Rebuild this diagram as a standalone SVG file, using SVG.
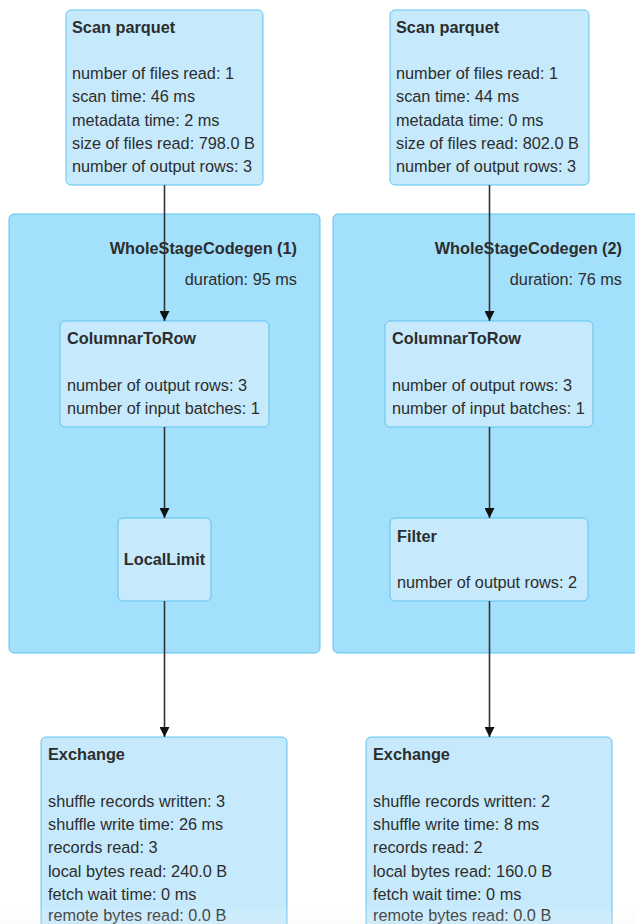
<svg xmlns="http://www.w3.org/2000/svg" width="635" height="924" viewBox="0 0 635 924">
<defs>
<style>
.cluster{fill:#a3e0fc;stroke:#5ec3f0;stroke-width:1}
.node{fill:#c6eafc;stroke:#5ec3f0;stroke-width:1}
.t{font-family:"Liberation Sans",Arial,sans-serif;font-size:16.3px;fill:#2d2d2d}
.b{font-weight:bold}
.edge{stroke:#333;stroke-width:1.6;fill:none}
</style>
<marker id="arr" viewBox="0 0 10 10" refX="10" refY="5" markerWidth="10" markerHeight="10" markerUnits="userSpaceOnUse" orient="auto">
<path d="M0,0 L10,5 L0,10 z" fill="#111"/>
</marker>
<linearGradient id="fade" x1="0" y1="0" x2="0" y2="1">
<stop offset="0" stop-color="#fff" stop-opacity="0"/>
<stop offset="1" stop-color="#eee" stop-opacity="0.25"/>
</linearGradient>
</defs>
<rect width="635" height="924" fill="#fff"/>

<g id="cluster1">
<rect class="cluster" x="9" y="214" width="311" height="439" rx="5"/>
<text class="t b" x="297" y="254" text-anchor="end">WholeStageCodegen (1)</text>
<text class="t" x="297" y="285" text-anchor="end">duration: 95 ms</text>
</g>
<g id="cluster2">
<rect class="cluster" x="333" y="214" width="310" height="439" rx="5"/>
<text class="t b" x="622" y="254" text-anchor="end">WholeStageCodegen (2)</text>
<text class="t" x="622" y="285" text-anchor="end">duration: 76 ms</text>
</g>

<g id="scan1">
<rect class="node" x="66" y="10" width="197" height="175" rx="5"/>
<text class="t b" x="72" y="33">Scan parquet</text>
<text class="t" x="72" y="79">number of files read: 1</text>
<text class="t" x="72" y="102">scan time: 46 ms</text>
<text class="t" x="72" y="126">metadata time: 2 ms</text>
<text class="t" x="72" y="149">size of files read: 798.0 B</text>
<text class="t" x="72" y="172">number of output rows: 3</text>
</g>
<g id="scan2">
<rect class="node" x="390" y="10" width="199" height="175" rx="5"/>
<text class="t b" x="396" y="33">Scan parquet</text>
<text class="t" x="396" y="79">number of files read: 1</text>
<text class="t" x="396" y="102">scan time: 44 ms</text>
<text class="t" x="396" y="126">metadata time: 0 ms</text>
<text class="t" x="396" y="149">size of files read: 802.0 B</text>
<text class="t" x="396" y="172">number of output rows: 3</text>
</g>

<g id="c2r1">
<rect class="node" x="60" y="321" width="209" height="106" rx="5"/>
<text class="t b" x="67" y="344">ColumnarToRow</text>
<text class="t" x="67" y="391">number of output rows: 3</text>
<text class="t" x="67" y="414">number of input batches: 1</text>
</g>
<g id="c2r2">
<rect class="node" x="385" y="321" width="208" height="106" rx="5"/>
<text class="t b" x="392" y="344">ColumnarToRow</text>
<text class="t" x="392" y="391">number of output rows: 3</text>
<text class="t" x="392" y="414">number of input batches: 1</text>
</g>

<g id="localLimit">
<rect class="node" x="118" y="518" width="93" height="83" rx="5"/>
<text class="t b" x="164.5" y="565" text-anchor="middle">LocalLimit</text>
</g>
<g id="filter">
<rect class="node" x="390" y="518" width="198" height="83" rx="5"/>
<text class="t b" x="397" y="542">Filter</text>
<text class="t" x="397" y="588">number of output rows: 2</text>
</g>

<g id="exchange1">
<rect class="node" x="41" y="737" width="246" height="200" rx="5"/>
<text class="t b" x="48" y="760">Exchange</text>
<text class="t" x="48" y="807">shuffle records written: 3</text>
<text class="t" x="48" y="830">shuffle write time: 26 ms</text>
<text class="t" x="48" y="853">records read: 3</text>
<text class="t" x="48" y="877">local bytes read: 240.0 B</text>
<text class="t" x="48" y="900">fetch wait time: 0 ms</text>
<text class="t" x="48" y="921">remote bytes read: 0.0 B</text>
</g>
<g id="exchange2">
<rect class="node" x="366" y="737" width="246" height="200" rx="5"/>
<text class="t b" x="373" y="760">Exchange</text>
<text class="t" x="373" y="807">shuffle records written: 2</text>
<text class="t" x="373" y="830">shuffle write time: 8 ms</text>
<text class="t" x="373" y="853">records read: 2</text>
<text class="t" x="373" y="877">local bytes read: 160.0 B</text>
<text class="t" x="373" y="900">fetch wait time: 0 ms</text>
<text class="t" x="373" y="921">remote bytes read: 0.0 B</text>
</g>

<g id="edges">
<line class="edge" x1="164.5" y1="185" x2="164.5" y2="321" marker-end="url(#arr)"/>
<line class="edge" x1="164.5" y1="427" x2="164.5" y2="518" marker-end="url(#arr)"/>
<line class="edge" x1="164.5" y1="601" x2="164.5" y2="737" marker-end="url(#arr)"/>
<line class="edge" x1="489.5" y1="185" x2="489.5" y2="321" marker-end="url(#arr)"/>
<line class="edge" x1="489.5" y1="427" x2="489.5" y2="518" marker-end="url(#arr)"/>
<line class="edge" x1="489.5" y1="601" x2="489.5" y2="737" marker-end="url(#arr)"/>
</g>
<rect x="0" y="904" width="635" height="20" fill="url(#fade)"/>
</svg>
